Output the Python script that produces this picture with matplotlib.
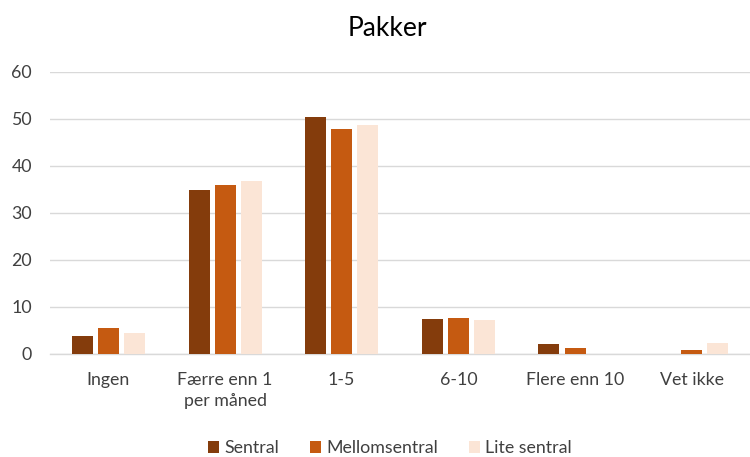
import matplotlib
matplotlib.use("Agg")
import matplotlib.pyplot as plt
import numpy as np

plt.rcParams['font.family'] = ['Lato', 'DejaVu Sans']

categories = ["Ingen", "Færre enn 1\nper måned", "1-5", "6-10", "Flere enn 10", "Vet ikke"]
series_names = ["Sentral", "Mellomsentral", "Lite sentral"]
sentral = [3.8, 34.9, 50.4, 7.5, 2.1, 0.0]
mellomsentral = [5.5, 36.0, 47.8, 7.7, 1.3, 0.8]
lite_sentral = [4.5, 36.7, 48.8, 7.2, 0.0, 2.3]
colors = ["#843C0C", "#C55A11", "#FBE5D6"]

fig = plt.figure(figsize=(7.5, 4.57), dpi=100)
ax = fig.add_axes([0.0667, 0.2254, 0.9333, 0.6171])

x = np.arange(len(categories))
w = 0.18
step = 0.223
for i, (vals, name, c) in enumerate(zip([sentral, mellomsentral, lite_sentral], series_names, colors)):
    ax.bar(x + (i - 1) * step, vals, width=w, color=c, label=name, zorder=3)

ax.set_xlim(-0.5, len(categories) - 0.5)
ax.set_ylim(0, 60)
ax.set_yticks(range(0, 61, 10))
ax.set_xticks(x)
ax.set_xticklabels(categories, fontsize=12.8, color="#404040", linespacing=1.4)
ax.tick_params(axis='y', labelsize=12.8, colors="#404040", length=0, pad=13)
ax.tick_params(axis='x', length=0, pad=13)
ax.grid(axis='y', color="#D9D9D9", linewidth=1, zorder=0)
for s in ["top", "right", "left"]:
    ax.spines[s].set_visible(False)
ax.spines["bottom"].set_color("#D9D9D9")
ax.spines["bottom"].set_linewidth(1)

fig.text(0.516, 0.938, "Pakker", ha="center", va="center", fontsize=19, color="#000000")

fig.legend(loc="center", bbox_to_anchor=(0.52, 0.02), ncol=3, frameon=False,
           fontsize=12.8, handlelength=0.65, handleheight=0.65, columnspacing=1.7,
           handletextpad=0.3, labelcolor="#404040")

fig.savefig("out.png", dpi=100)
